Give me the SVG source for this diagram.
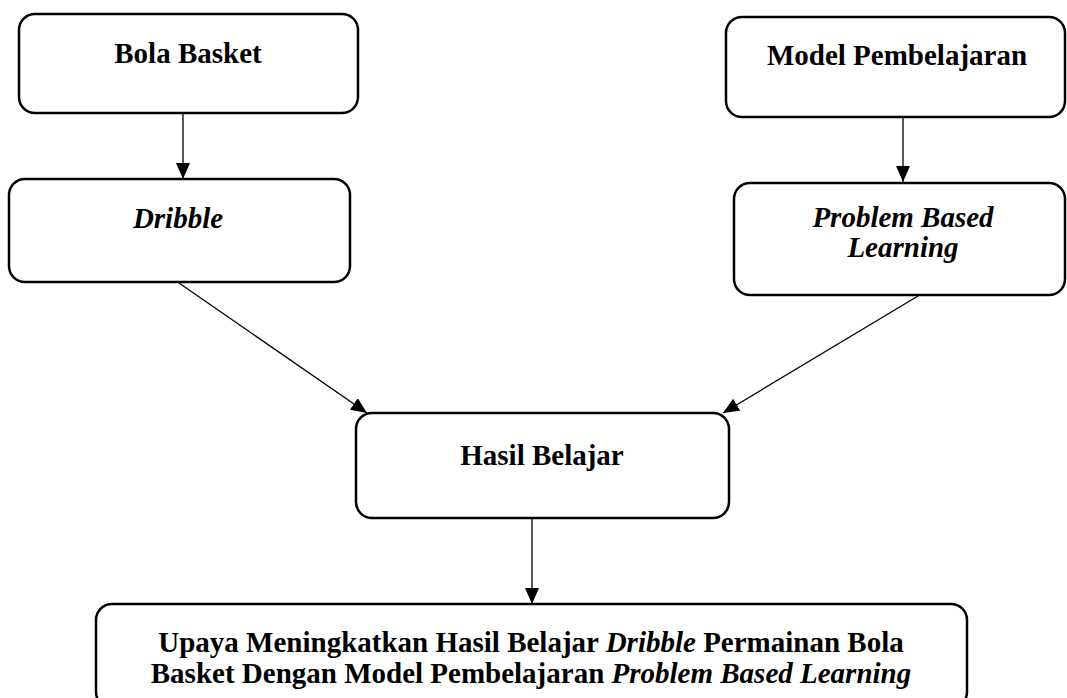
<svg xmlns="http://www.w3.org/2000/svg" width="1067" height="698" viewBox="0 0 1067 698">
<style>
.box{fill:#fff;stroke:#000;stroke-width:2.5}
.t{font-family:"Liberation Serif","Times New Roman",serif;font-size:29px;font-weight:bold;fill:#000;text-anchor:middle}
.i{font-style:italic}
.c{stroke:#000;stroke-width:1.3;fill:none;marker-end:url(#ah)}
</style>
<defs>
<marker id="ah" markerUnits="userSpaceOnUse" viewBox="0 0 16 14" markerWidth="16" markerHeight="14" refX="16" refY="7" orient="auto">
<path d="M0,0 L16,7 L0,14 z" fill="#000"/>
</marker>
</defs>
<rect width="1067" height="698" fill="#fff"/>
<g id="connectors">
<line class="c" x1="183" y1="113" x2="183" y2="179"/>
<line class="c" x1="903" y1="117" x2="903" y2="182"/>
<line class="c" x1="179" y1="283" x2="367" y2="413"/>
<line class="c" x1="918" y1="296" x2="723" y2="413"/>
<line class="c" x1="532" y1="518" x2="532" y2="604"/>
</g>
<g id="bola-basket">
<rect class="box" x="19" y="14" width="339" height="99" rx="16"/>
<text class="t" x="188" y="63">Bola Basket</text>
</g>
<g id="dribble">
<rect class="box" x="9" y="179" width="341" height="103" rx="16"/>
<text class="t i" x="178" y="228">Dribble</text>
</g>
<g id="model-pembelajaran">
<rect class="box" x="726" y="17" width="339" height="100" rx="16"/>
<text class="t" x="897" y="65">Model Pembelajaran</text>
</g>
<g id="pbl">
<rect class="box" x="734" y="183" width="331" height="112" rx="16"/>
<text class="t i" x="903" y="227">Problem Based</text>
<text class="t i" x="903" y="257">Learning</text>
</g>
<g id="hasil-belajar">
<rect class="box" x="356" y="413" width="373" height="105" rx="16"/>
<text class="t" x="542" y="465">Hasil Belajar</text>
</g>
<g id="upaya">
<rect class="box" x="96" y="604" width="871" height="104" rx="16"/>
<text class="t" x="531" y="652">Upaya Meningkatkan Hasil Belajar <tspan class="i">Dribble</tspan> Permainan Bola</text>
<text class="t" x="531" y="683">Basket Dengan Model Pembelajaran <tspan class="i">Problem Based Learning</tspan></text>
</g>
</svg>
